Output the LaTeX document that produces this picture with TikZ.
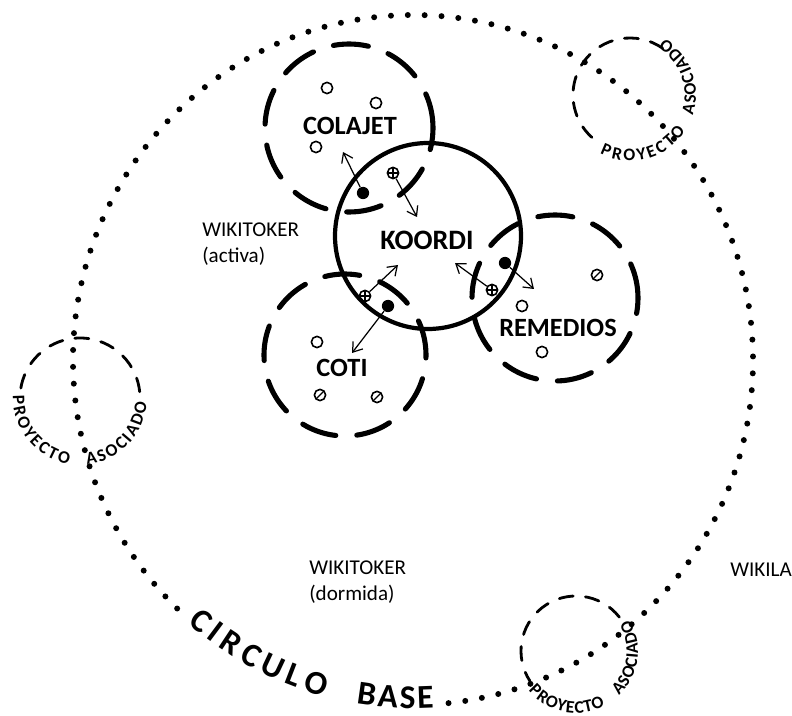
\documentclass[tikz,border=0pt]{standalone}
\usepackage{fontspec}
\setmainfont{Carlito}
\usetikzlibrary{arrows.meta}
\usetikzlibrary{decorations.text}

\newcommand{\letraAsoc}{\fontsize{10}{10}\selectfont\bfseries}
\newcommand{\letraBase}{\fontsize{19}{19}\selectfont\bfseries}

\begin{document}
\begin{tikzpicture}[
        x=0.02cm, y=0.02cm,
        every node/.style={font=\fontsize{15}{15}\selectfont\bfseries},
        grupo/.style={line width=2.9pt, line cap=round, dash pattern=on 20pt off 12pt},
        nucleo/.style={line width=2.4pt},
        puntos/.style={line width=3.4pt, line cap=round, dash pattern=on 0pt off 9.6pt},
        asociado/.style={line width=1.6pt, line cap=round, dash pattern=on 8pt off 7pt},
        miembro/.style={circle, draw, line width=0.9pt, minimum size=6.4pt, inner sep=0pt},
        activo/.style={circle, fill, minimum size=7pt, inner sep=0pt},
        tachado/.style={miembro, path picture={\draw[line width=0.8pt] (path picture bounding box.south west) -- (path picture bounding box.north east);}},
        cruzado/.style={miembro, path picture={\draw[line width=0.7pt] (path picture bounding box.north) -- (path picture bounding box.south) (path picture bounding box.west) -- (path picture bounding box.east);}},
        flecha/.style={-{Straight Barb[length=5pt, width=7pt]}, line width=0.7pt},
        nota/.style={font=\fontsize{12}{15}\selectfont, align=left, inner sep=0pt},
        curva/.style={decorate, decoration={text along path, text align={fit to path}, text={#1}}}
    ]

        \useasboundingbox (0,0) rectangle (792,-716);
        \clip (0,0) rectangle (792,-716);

        % -------------------------------------------------
        % Circulo base
        % -------------------------------------------------
        \draw[puntos] ([shift={(276:340 and 345)}]413,-360) arc[start angle=276, end angle=587, x radius=340, y radius=345];
        \path[curva={|\letraBase|CIRCULO}, decoration={raise=-2pt}] ([shift={(229:340 and 345)}]413,-360) arc[start angle=229, end angle=255, x radius=340, y radius=345];
        \path[curva={|\letraBase|BASE}, decoration={raise=-2pt}] ([shift={(260.5:340 and 345)}]413,-360) arc[start angle=260.5, end angle=273.5, x radius=340, y radius=345];

        % -------------------------------------------------
        % Proyectos asociados
        % -------------------------------------------------
        \draw[asociado] ([shift={(55:57)}]630,-95) arc[start angle=55, end angle=240, radius=57];
        \path[curva={|\letraAsoc|PROYECTO}] ([shift={(243:66)}]630,-95) arc[start angle=243, end angle=327, radius=66];
        \path[curva={|\letraAsoc|ASOCIADO}] ([shift={(342:66)}]630,-95) arc[start angle=342, end angle=418, radius=66];

        \draw[asociado] ([shift={(6:60)}]80,-398) arc[start angle=6, end angle=172, radius=60];
        \path[curva={|\letraAsoc|PROYECTO}] ([shift={(178:67)}]80,-398) arc[start angle=178, end angle=260, radius=67];
        \path[curva={|\letraAsoc|ASOCIADO}] ([shift={(276:67)}]80,-398) arc[start angle=276, end angle=356, radius=67];

        \draw[asociado] ([shift={(38:55)}]576,-651) arc[start angle=38, end angle=213, radius=55];
        \path[curva={|\letraAsoc|PROYECTO}] ([shift={(220:62)}]576,-651) arc[start angle=220, end angle=298, radius=62];
        \path[curva={|\letraAsoc|ASOCIADO}] ([shift={(314:62)}]576,-651) arc[start angle=314, end angle=390, radius=62];

        % -------------------------------------------------
        % Circulos de trabajo
        % -------------------------------------------------
        \draw[grupo] (349,-128) circle[radius=84];
        \draw[grupo] (345,-355) circle[radius=81];
        \draw[grupo] (555,-298) circle[radius=83];
        \draw[nucleo] (428,-236) circle[radius=93];

        \node (colajet) at (350,-126) {COLAJET};
        \node[font=\fontsize{16}{16}\selectfont\bfseries] (koordi) at (427,-240) {KOORDI};
        \node (remedios) at (558,-328) {REMEDIOS};
        \node (coti) at (342,-368) {COTI};

        % Colajet
        \node[miembro] (cjA) at (327,-88) {};
        \node[miembro] (cjB) at (376,-103) {};
        \node[miembro] (cjC) at (316,-147) {};
        \node[activo] (cjActivo) at (363,-193) {};
        \node[cruzado] (cjCruz) at (393,-173) {};
        \coordinate (cjSalida) at (343,-152);
        \coordinate (cjEntrada) at (417,-217);
        \draw[flecha] (cjActivo) -- (cjSalida);
        \draw[flecha] (cjCruz) -- (cjEntrada);

        % Remedios
        \node[tachado] (reA) at (597,-275) {};
        \node[miembro] (reB) at (522,-306) {};
        \node[miembro] (reC) at (542,-352) {};
        \node[activo] (reActivo) at (505,-263) {};
        \node[cruzado] (reCruz) at (492,-290) {};
        \coordinate (reSalida) at (534,-289);
        \coordinate (reEntrada) at (455,-263);
        \draw[flecha] (reActivo) -- (reSalida);
        \draw[flecha] (reCruz) -- (reEntrada);

        % Coti
        \node[miembro] (coA) at (317,-342) {};
        \node[tachado] (coB) at (320,-395) {};
        \node[tachado] (coC) at (377,-397) {};
        \node[cruzado] (coCruz) at (365,-296) {};
        \node[activo] (coActivo) at (388,-306) {};
        \coordinate (coEntrada) at (398,-265);
        \coordinate (coSalida) at (352,-353);
        \draw[flecha] (coCruz) -- (coEntrada);
        \draw[flecha] (coActivo) -- (coSalida);

        % -------------------------------------------------
        % Estados
        % -------------------------------------------------
        \node[nota, anchor=north west] (activa) at (202,-222) {WIKITOKER\\(activa)};
        \node[nota, anchor=north west] (dormida) at (309,-560) {WIKITOKER\\(dormida)};
        \node[nota, anchor=west] (wikila) at (730,-570) {WIKILA};

    \end{tikzpicture}
\end{document}
